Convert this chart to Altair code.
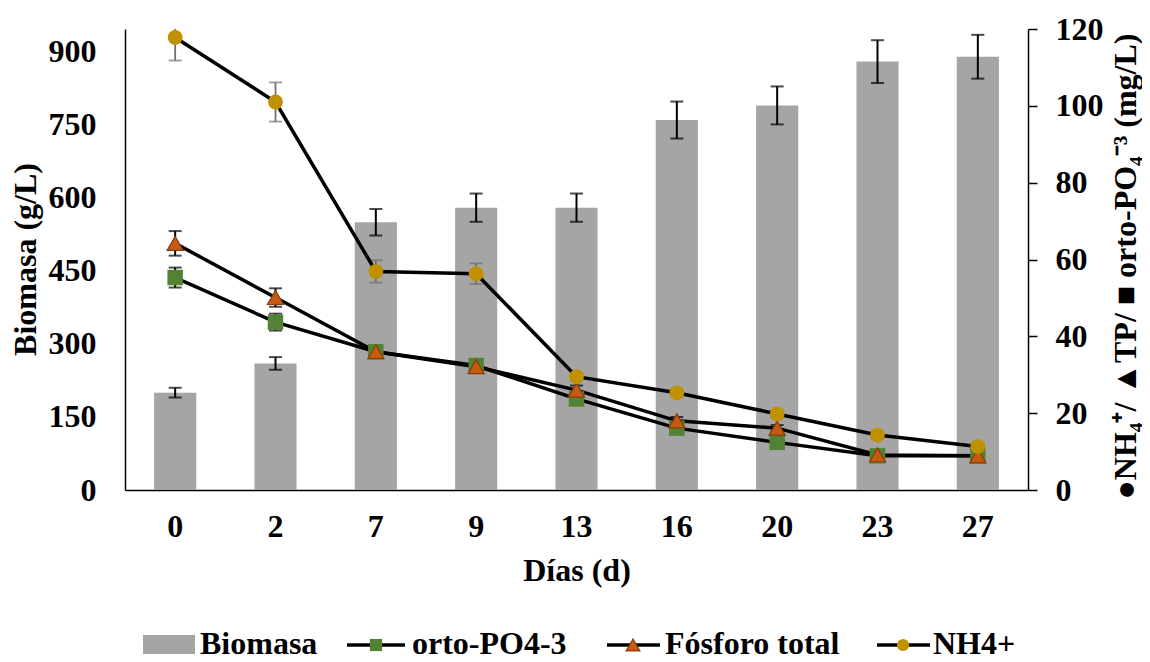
import altair as alt
import pandas as pd

# ---------------- data ----------------
dias = ["0", "2", "7", "9", "13", "16", "20", "23", "27"]
biomasa = [200, 260, 550, 580, 580, 760, 790, 880, 890]
biomasa_err = [10, 13, 27, 29, 29, 38, 39, 44, 45]
orto_po4 = [55.3, 43.7, 36.0, 32.4, 23.7, 16.1, 12.4, 8.9, 8.9]
orto_po4_err = [2.6, 2.2, 1.0, 0.8, 0.8, 0.8, 0.8, 0.5, 0.5]
fosforo_total = [64.2, 50.1, 36.0, 32.1, 26.0, 18.0, 16.1, 9.1, 8.9]
fosforo_total_err = [3.2, 2.4, 1.0, 0.8, 1.2, 1.0, 0.8, 0.5, 0.5]
nh4 = [117.8, 101.0, 56.9, 56.3, 29.5, 25.3, 19.8, 14.3, 11.3]
nh4_err = [6.0, 5.1, 2.9, 2.7, 1.0, 1.0, 1.0, 1.0, 1.0]
series = ["Biomasa", "orto-PO4-3", "Fósforo total", "NH4+"]
left_ticks = [0, 150, 300, 450, 600, 750, 900]
right_ticks = [0, 20, 40, 60, 80, 100, 120]
left_title = "Biomasa (g/L)"
right_title = "●NH₄⁺/ ▲TP/ ■ orto-PO₄⁻³ (mg/L)"
x_title = "Días (d)"

FONT = "Liberation Serif"
FS = 32
C_BAR = "#A5A5A5"
C_PO4 = "#548235"
C_TP = "#C55A11"
C_TP_STROKE = "#843C0C"
C_NH4 = "#BF9000"

bio_df = pd.DataFrame({"dia": dias, "biomasa": biomasa, "err": biomasa_err})
long_df = pd.concat([
    pd.DataFrame({"dia": dias, "serie": series[1], "valor": orto_po4, "err": orto_po4_err}),
    pd.DataFrame({"dia": dias, "serie": series[2], "valor": fosforo_total, "err": fosforo_total_err}),
    pd.DataFrame({"dia": dias, "serie": series[3], "valor": nh4, "err": nh4_err}),
], ignore_index=True)

# ---------------- shared encodings ----------------
x_enc = alt.X(
    "dia:N", sort=dias,
    scale=alt.Scale(paddingInner=0.58, paddingOuter=0.29),
    axis=alt.Axis(title=x_title, labelAngle=0, ticks=False, tickSize=0, labelPadding=21,
                  domainColor="black", domainWidth=1.5, grid=False,
                  titleY=90, titleBaseline="alphabetic"),
)

yL_scale = alt.Scale(domain=[0, 947], nice=False, zero=True)
yL_axis = alt.Axis(title=left_title, values=left_ticks, orient="left", ticks=False, tickSize=0,
                   labelPadding=29, grid=False, domainColor="black", domainWidth=1.5,
                   titleAngle=270, titleX=-100, titleY=230, titleAlign="center",
                   titleBaseline="middle")

yR_scale = alt.Scale(domain=[0, 120], nice=False, zero=True)
yR_axis = alt.Axis(title=right_title, values=right_ticks, orient="right", ticks=True, tickSize=9,
                   tickColor="black", tickWidth=1.5, labelPadding=18, grid=False,
                   domainColor="black", domainWidth=1.5,
                   titleAngle=270, titleX=97, titleY=237, titleAlign="center",
                   titleBaseline="middle")

# ---------------- biomass bars (left axis) ----------------
bars = alt.Chart(bio_df).mark_bar(color=C_BAR).encode(
    x=x_enc, y=alt.Y("biomasa:Q", scale=yL_scale, axis=yL_axis)
)
bar_err = alt.Chart(bio_df).transform_calculate(
    lo="datum.biomasa - datum.err", hi="datum.biomasa + datum.err"
).mark_errorbar(ticks=True, size=13, thickness=2, color="black").encode(
    x=x_enc, y=alt.Y("lo:Q", scale=yL_scale, axis=None), y2="hi:Q"
)

# ---------------- nutrients (right axis) ----------------
base = alt.Chart(long_df)
err_black = base.transform_filter(alt.datum.serie != series[3]).transform_calculate(
    lo="datum.valor - datum.err", hi="datum.valor + datum.err"
).mark_errorbar(ticks=True, size=13, thickness=2, color="black").encode(
    x=x_enc, y=alt.Y("lo:Q", scale=yR_scale, axis=None), y2="hi:Q"
)
err_gray = base.transform_filter(alt.datum.serie == series[3]).transform_calculate(
    lo="datum.valor - datum.err", hi="datum.valor + datum.err"
).mark_errorbar(ticks=True, size=13, thickness=1.8, color="#6F6F6F", clip=True).encode(
    x=x_enc, y=alt.Y("lo:Q", scale=yR_scale, axis=None), y2="hi:Q"
)
lines = base.mark_line(color="black", strokeWidth=3.5).encode(
    x=x_enc, y=alt.Y("valor:Q", scale=yR_scale, axis=yR_axis), detail="serie:N"
)


def pts(name, shape, size, color, stroke=None):
    kw = dict(filled=True, shape=shape, size=size, color=color, opacity=1)
    if stroke:
        kw.update(stroke=stroke, strokeWidth=1.2)
    else:
        kw.update(strokeWidth=0)
    return base.transform_filter(alt.datum.serie == name).mark_point(**kw).encode(
        x=x_enc, y=alt.Y("valor:Q", scale=yR_scale, axis=None)
    )


p_po4 = pts(series[1], "square", 240, C_PO4)
p_tp = pts(series[2], "triangle-up", 260, C_TP, C_TP_STROKE)
p_nh4 = pts(series[3], "circle", 220, C_NH4)

# ---------------- manual legend (below the plot) ----------------
LY = 616   # symbol centre line (px from plot top)
LT = 625   # text baseline


def one(name):
    return alt.Data(values=[{"serie": name}])


def leg_text(name, x):
    return alt.Chart(one(name)).mark_text(
        align="left", baseline="alphabetic", font=FONT, fontSize=FS, fontWeight="bold", color="black"
    ).encode(x=alt.value(x), y=alt.value(LT), text="serie:N")


def leg_line(name, x1, x2):
    return alt.Chart(one(name)).mark_rule(color="black", strokeWidth=3.5).encode(
        x=alt.value(x1), x2=alt.value(x2), y=alt.value(LY)
    )


def leg_sym(name, x, shape, size, color, stroke=None):
    kw = dict(filled=True, shape=shape, size=size, color=color, opacity=1)
    if stroke:
        kw.update(stroke=stroke, strokeWidth=1.2)
    else:
        kw.update(strokeWidth=0)
    return alt.Chart(one(name)).mark_point(**kw).encode(x=alt.value(x), y=alt.value(LY))


leg_bar = alt.Chart(one(series[0])).mark_rect(color=C_BAR).encode(
    x=alt.value(18), x2=alt.value(70), y=alt.value(LY - 10), y2=alt.value(LY + 9)
)
legend_layers = [
    leg_bar, leg_text(series[0], 75),
    leg_line(series[1], 222, 280), leg_sym(series[1], 251, "square", 150, C_PO4), leg_text(series[1], 287),
    leg_line(series[2], 482, 535), leg_sym(series[2], 508, "triangle-up", 190, C_TP, C_TP_STROKE),
    leg_text(series[2], 540),
    leg_line(series[3], 752, 805), leg_sym(series[3], 778, "circle", 150, C_NH4), leg_text(series[3], 808),
]

# every layer gets its own (identical, explicitly fixed) y scale; only bars and lines draw an axis
chart = alt.layer(
    bars, bar_err, err_black, err_gray, lines, p_po4, p_tp, p_nh4, *legend_layers
).resolve_scale(y="independent").properties(
    width=903, height=461,
    autosize=alt.AutoSizeParams(type="none"),
    padding={"left": 117, "top": 21, "right": 114, "bottom": 176},
    background="white",
).configure_view(stroke=None).configure_axis(
    labelFont=FONT, labelFontSize=FS, labelFontWeight="bold", labelColor="black",
    titleFont=FONT, titleFontSize=FS, titleFontWeight="bold", titleColor="black",
)

chart.save("out.html", embed_options={"renderer": "svg", "actions": False})
